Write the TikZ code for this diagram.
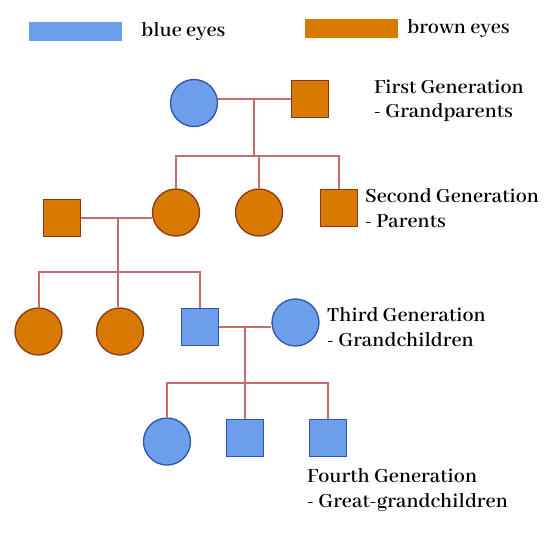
\documentclass[tikz,border=0pt]{standalone}
\usepackage{fontspec}
\setmainfont{Abhaya Libre}[UprightFont={* SemiBold}]
\usetikzlibrary{positioning}
\definecolor{blueeye}{RGB}{109,158,235}
\definecolor{brown eye}{RGB}{217,122,0}
\definecolor{blueedge}{RGB}{45,85,170}
\definecolor{brownedge}{RGB}{140,55,25}
\definecolor{kinline}{RGB}{196,110,110}
\begin{document}
\begin{tikzpicture}[x=1pt, y=-1pt,
  kin/.style={draw=kinline, line width=2pt},
  female/.style={circle, minimum size=47pt, inner sep=0pt, line width=1.3pt},
  male/.style={rectangle, minimum size=37pt, inner sep=0pt, line width=1pt},
  blueeyed/.style={fill=blueeye, draw=blueedge},
  browneyed/.style={fill=brown eye, draw=brownedge},
  key/.style={minimum width=93pt, minimum height=19pt, inner sep=0pt},
  gen/.style={anchor=west, inner sep=0pt, align=left, font=\fontsize{22}{24.5}\selectfont}]
\useasboundingbox (0,0) rectangle (550,550);

% legend
\node[key, fill=blueeye] (keyblue) at (75.5,31.5) {};
\node[gen, right=19pt of keyblue] {blue eyes};
\node[key, fill=brown eye] (keybrown) at (351.5,28.5) {};
\node[gen, right=9pt of keybrown] {brown eyes};

% first generation
\node[female, blueeyed] (gm) at (194,103) {};
\node[male, browneyed] (gp) at (309.5,98.5) {};
\node[gen] at (374,101) {First Generation\\- Grandparents};

% second generation
\node[male, browneyed] (dad) at (62,217.5) {};
\node[female, browneyed] (mum) at (176,212.5) {};
\node[female, browneyed] (aunt) at (259,212.5) {};
\node[male, browneyed] (uncle) at (338.5,208) {};
\node[gen] at (365,208) {Second Generation\\- Parents};

% third generation
\node[female, browneyed] (sis1) at (38.5,331.5) {};
\node[female, browneyed] (sis2) at (120,331.5) {};
\node[male, blueeyed] (son) at (199.5,327) {};
\node[female, blueeyed] (wife) at (295.5,322.5) {};
\node[gen] at (327,327) {Third Generation\\- Grandchildren};

% fourth generation
\node[female, blueeyed] (kid1) at (167,441.5) {};
\node[male, blueeyed] (kid2) at (245,438) {};
\node[male, blueeyed] (kid3) at (327.5,438) {};
\node[gen] at (307,490) {Fourth Generation\\- Great-grandchildren};

% couples and their children
\coordinate (m1) at (254,98.5);
\coordinate (s1) at (254,156);
\draw[kin] (gm.east |- m1) -- (gp.west);
\draw[kin] (m1) -- (s1);
\draw[kin] (mum.north) |- (uncle.north |- s1) -- (uncle.north);
\draw[kin] (aunt.north) -- (aunt.north |- s1);

\coordinate (m2) at (118,217.5);
\coordinate (s2) at (118,272);
\draw[kin] (dad.east) -- (mum.west |- m2);
\draw[kin] (m2) -- (m2 |- sis2.north);
\draw[kin] (sis1.north) |- (son.north |- s2) -- (son.north);

\coordinate (m3) at (245,327);
\coordinate (s3) at (245,383);
\draw[kin] (son.east) -- (wife.west |- m3);
\draw[kin] (m3) -- (kid2.north);
\draw[kin] (kid1.north) |- (kid3.north |- s3) -- (kid3.north);
\end{tikzpicture}
\end{document}
